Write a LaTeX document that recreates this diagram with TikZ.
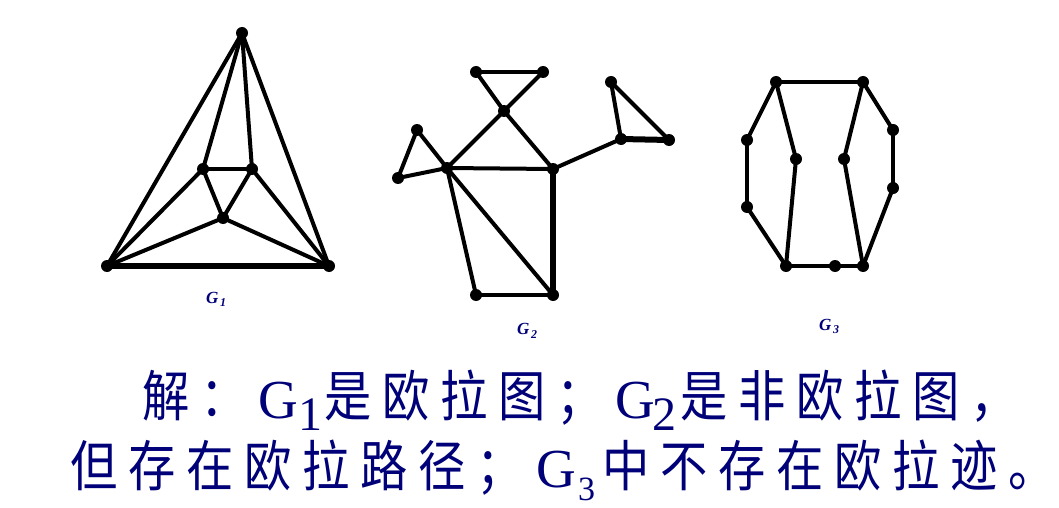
\documentclass[tikz,border=0pt]{standalone}
\usepackage{fontspec}
\setmainfont{Liberation Serif}
\newfontfamily\cjkfont{Noto Sans CJK SC}
\definecolor{navy}{RGB}{0,0,120}
\makeatletter
\newcommand\cjkrun[1]{\@tfor\cjk@c:=#1\do{\makebox[58pt][l]{\scalebox{0.86}[1]{\cjk@c}}}}
\makeatother
\tikzset{
  vtx/.style={circle,fill=black,inner sep=0pt,minimum size=12pt},
  edgeline/.style={line width=4pt,line cap=round},
  thickline/.style={line width=6pt,line cap=round},
  cjktext/.style={anchor=base west,inner sep=0pt,text=navy,font=\cjkfont\fontsize{55}{55}\selectfont},
  gtext/.style={anchor=base west,inner sep=0pt,text=navy,font=\fontsize{55}{55}\selectfont},
  subtext/.style={anchor=base west,inner sep=0pt,text=navy,font=\fontsize{48}{48}\selectfont},
  smallsub/.style={anchor=base west,inner sep=0pt,text=navy,font=\fontsize{34}{34}\selectfont},
  glabel/.style={anchor=base west,inner sep=0pt,text=navy,font=\bfseries\itshape\fontsize{17}{17}\selectfont},
  gsub/.style={anchor=base west,inner sep=0pt,text=navy,font=\bfseries\itshape\fontsize{12}{12}\selectfont}
}
\begin{document}
\begin{tikzpicture}[x=1pt,y=-1pt]
\useasboundingbox[fill=white] (0,0) rectangle (1059,508);
% ---------- G1 ----------
\node[vtx] (t)  at (242,33) {};
\node[vtx] (bl) at (107,266) {};
\node[vtx] (br) at (329,266) {};
\node[vtx] (il) at (203,169) {};
\node[vtx] (ir) at (252,169) {};
\node[vtx] (ib) at (223,218) {};
\draw[edgeline] (t.center) -- (bl.center);
\draw[edgeline] (t.center) -- (br.center);
\draw[edgeline] (t.center) -- (il.center);
\draw[edgeline] (t.center) -- (ir.center);
\draw[edgeline] (il.center) -- (ir.center);
\draw[edgeline] (il.center) -- (ib.center);
\draw[edgeline] (ir.center) -- (ib.center);
\draw[edgeline] (bl.center) -- (il.center);
\draw[edgeline] (bl.center) -- (ib.center);
\draw[edgeline] (br.center) -- (ir.center);
\draw[edgeline] (br.center) -- (ib.center);
\draw[thickline] (bl.center) -- (br.center);
\node[glabel] (g1l) at (206,303) {G};
\node[gsub] (g1s) at (220,306) {1};
% ---------- G2 ----------
\node[vtx] (a) at (476,72) {};
\node[vtx] (b) at (543,72) {};
\node[vtx] (c) at (504,111) {};
\node[vtx] (d) at (417,130) {};
\node[vtx] (e) at (398,178) {};
\node[vtx] (f) at (447,168) {};
\node[vtx] (g) at (553,169) {};
\node[vtx] (h) at (621,139) {};
\node[vtx] (i) at (611,82) {};
\node[vtx] (j) at (669,140) {};
\node[vtx] (k) at (476,295) {};
\node[vtx] (l) at (553,295) {};
\draw[edgeline] (a.center) -- (b.center);
\draw[edgeline] (a.center) -- (c.center);
\draw[edgeline] (b.center) -- (c.center);
\draw[edgeline] (c.center) -- (f.center);
\draw[edgeline] (c.center) -- (g.center);
\draw[edgeline] (d.center) -- (f.center);
\draw[edgeline] (d.center) -- (e.center);
\draw[edgeline] (e.center) -- (f.center);
\draw[edgeline] (f.center) -- (g.center);
\draw[edgeline] (g.center) -- (h.center);
\draw[edgeline] (h.center) -- (i.center);
\draw[edgeline] (i.center) -- (j.center);
\draw[thickline] (h.center) -- (j.center);
\draw[edgeline] (f.center) -- (k.center);
\draw[edgeline] (f.center) -- (l.center);
\draw[thickline] (g.center) -- (l.center);
\draw[edgeline] (k.center) -- (l.center);
\node[glabel] (g2l) at (517,334) {G};
\node[gsub] (g2s) at (531,338) {2};
% ---------- G3 ----------
\node[vtx] (p1)  at (776,82) {};
\node[vtx] (p2)  at (863,82) {};
\node[vtx] (p3)  at (747,140) {};
\node[vtx] (p4)  at (747,207) {};
\node[vtx] (p5)  at (796,159) {};
\node[vtx] (p6)  at (844,159) {};
\node[vtx] (p7)  at (893,130) {};
\node[vtx] (p8)  at (893,188) {};
\node[vtx] (p9)  at (786,266) {};
\node[vtx] (p10) at (835,266) {};
\node[vtx] (p11) at (863,266) {};
\draw[edgeline] (p1.center) -- (p2.center);
\draw[edgeline] (p1.center) -- (p3.center);
\draw[edgeline] (p3.center) -- (p4.center);
\draw[edgeline] (p4.center) -- (p9.center);
\draw[edgeline] (p1.center) -- (p5.center);
\draw[edgeline] (p5.center) -- (p9.center);
\draw[edgeline] (p9.center) -- (p10.center);
\draw[edgeline] (p10.center) -- (p11.center);
\draw[edgeline] (p2.center) -- (p6.center);
\draw[edgeline] (p6.center) -- (p11.center);
\draw[edgeline] (p2.center) -- (p7.center);
\draw[edgeline] (p7.center) -- (p8.center);
\draw[edgeline] (p8.center) -- (p11.center);
\node[glabel] (g3l) at (819,330) {G};
\node[gsub] (g3s) at (833,333) {3};
% ---------- text line 1 ----------
\node[cjktext] (r1) at (142,416) {\cjkrun{解：}};
\node[gtext]   (G1) at (258,418) {G};
\node[subtext] (s1) at (298,430) {1};
\node[cjktext] (r2) at (324,416) {\cjkrun{是欧拉图；}};
\node[gtext]   (G2) at (615,418) {G};
\node[subtext] (s2) at (652,430) {2};
\node[cjktext] (r3) at (680,416) {\cjkrun{是非欧拉图，}};
% ---------- text line 2 ----------
\node[cjktext] (r4) at (70,486) {\cjkrun{但存在欧拉路径；}};
\node[gtext]   (G3) at (536,487) {G};
\node[smallsub] (s3) at (578,500) {3};
\node[cjktext] (r5) at (602,486) {\cjkrun{中不存在欧拉迹。}};
\end{tikzpicture}
\end{document}
